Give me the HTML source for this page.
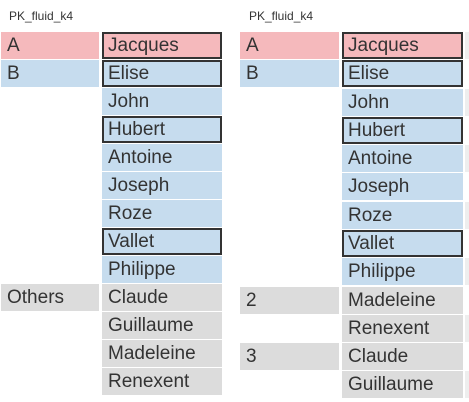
<!DOCTYPE html>
<html><head><meta charset="utf-8"><style>
body{margin:0;width:469px;height:402px;background:#fff;position:relative;overflow:hidden;font-family:"Liberation Sans",sans-serif;}
.c{position:absolute;box-sizing:border-box;height:27px;font-size:19px;line-height:27px;padding-left:6px;color:#333;white-space:nowrap;}
.p{background:#f5b9bc}.b{background:#c6dcee}.g{background:#dcdcdc}
.k{border:2px solid #333;line-height:23px;padding-left:4px}
.t{position:absolute;top:9px;font-size:12px;color:#333;}
.s{position:absolute;left:465px;width:4px;height:27px;background:#eee}
</style></head><body>
<div class="t" style="left:9px">PK_fluid_k4</div>
<div class="t" style="left:249px">PK_fluid_k4</div>

<div class="c p" style="left:1px;width:98px;top:32px">A</div>
<div class="c b" style="left:1px;width:98px;top:60px">B</div>
<div class="c g" style="left:1px;width:98px;top:284px">Others</div>

<div class="c p k" style="left:102px;width:120px;top:32px">Jacques</div>
<div class="c b k" style="left:102px;width:120px;top:60px">Elise</div>
<div class="c b" style="left:102px;width:120px;top:88px">John</div>
<div class="c b k" style="left:102px;width:120px;top:116px">Hubert</div>
<div class="c b" style="left:102px;width:120px;top:144px">Antoine</div>
<div class="c b" style="left:102px;width:120px;top:172px">Joseph</div>
<div class="c b" style="left:102px;width:120px;top:200px">Roze</div>
<div class="c b k" style="left:102px;width:120px;top:228px">Vallet</div>
<div class="c b" style="left:102px;width:120px;top:256px">Philippe</div>
<div class="c g" style="left:102px;width:120px;top:284px">Claude</div>
<div class="c g" style="left:102px;width:120px;top:312px">Guillaume</div>
<div class="c g" style="left:102px;width:120px;top:340px">Madeleine</div>
<div class="c g" style="left:102px;width:120px;top:368px">Renexent</div>

<div class="c p" style="left:240px;width:99px;top:32px">A</div>
<div class="c b" style="left:240px;width:99px;top:60px">B</div>
<div class="c g" style="left:240px;width:99px;top:287px">2</div>
<div class="c g" style="left:240px;width:99px;top:343px">3</div>

<div class="c p k" style="left:342px;width:121px;top:32px">Jacques</div>
<div class="c b k" style="left:342px;width:121px;top:60px">Elise</div>
<div class="c b" style="left:342px;width:121px;top:89px">John</div>
<div class="c b k" style="left:342px;width:121px;top:117px">Hubert</div>
<div class="c b" style="left:342px;width:121px;top:145px">Antoine</div>
<div class="c b" style="left:342px;width:121px;top:173px">Joseph</div>
<div class="c b" style="left:342px;width:121px;top:202px">Roze</div>
<div class="c b k" style="left:342px;width:121px;top:230px">Vallet</div>
<div class="c b" style="left:342px;width:121px;top:258px">Philippe</div>
<div class="c g" style="left:342px;width:121px;top:287px">Madeleine</div>
<div class="c g" style="left:342px;width:121px;top:315px">Renexent</div>
<div class="c g" style="left:342px;width:121px;top:343px">Claude</div>
<div class="c g" style="left:342px;width:121px;top:371px">Guillaume</div>

<div class="s" style="top:32px"></div>
<div class="s" style="top:89px"></div>
<div class="s" style="top:145px"></div>
<div class="s" style="top:202px"></div>
<div class="s" style="top:258px"></div>
<div class="s" style="top:315px"></div>
<div class="s" style="top:371px"></div>
</body></html>
